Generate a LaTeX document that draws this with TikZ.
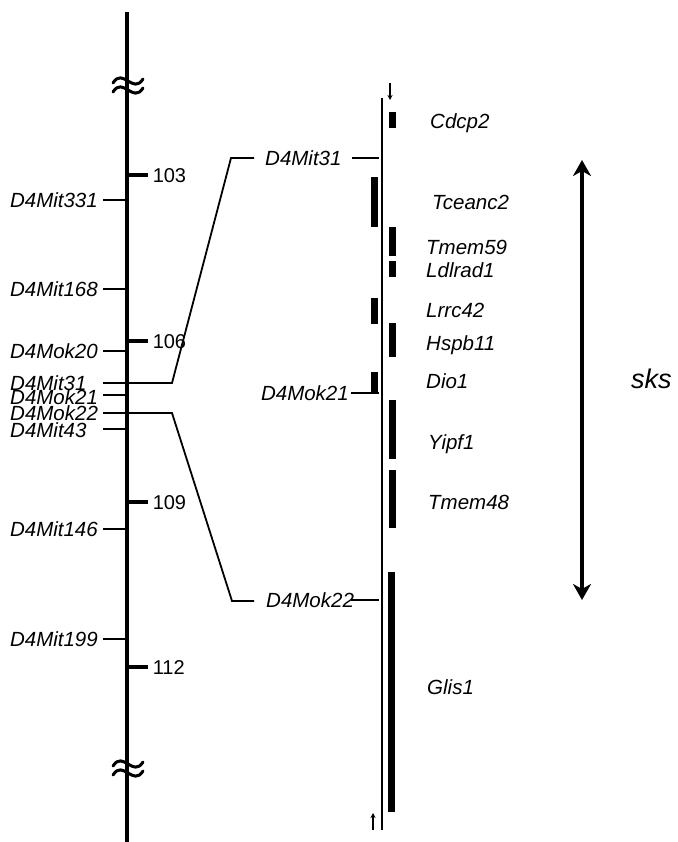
\documentclass[tikz,border=0pt]{standalone}
\usepackage{fontspec}
\setmainfont{Liberation Sans}
\usetikzlibrary{arrows.meta}
\begin{document}
\begin{tikzpicture}[x=1pt,y=-1pt,
  lab/.style={font=\fontsize{20.5}{23}\selectfont\itshape, inner sep=0pt, text height=14.7pt, text depth=0pt},
  num/.style={font=\fontsize{20}{23}\selectfont, inner sep=0pt, text height=14.3pt, text depth=0pt, anchor=west},
  mk/.style={line width=2pt},
  tickmk/.style={line width=3.5pt},
  conn/.style={line width=1.8pt},
  genebar/.style={fill=black, draw=none},
  brk/.style={line width=3pt, line cap=round}]
\useasboundingbox (0,0) rectangle (677,842);

% chromosome
\draw[line width=4.2pt] (127,12) -- (127,842);
\foreach \y in {81,90,764,773}{
  \draw[brk] (113,\y+2) .. controls (118,\y-6) and (123,\y-3) .. (128,\y) .. controls (133,\y+3) and (138,\y+6) .. (143,\y-2);
}

% scale ticks
\foreach \y/\t in {175/103,341/106,502/109,667/112}{
  \draw[tickmk] (129,\y) -- (148,\y) node[num, right=3pt] (s\t) {\t};
}

% left markers (right aligned)
\foreach \y/\t in {200/D4Mit331,289/D4Mit168,351/D4Mok20,529/D4Mit146,639/D4Mit199}{
  \node[lab, anchor=east] (L\t) at (98,\y) {\t};
  \draw[mk] (103,\y) -- (127,\y);
}
% left markers (clustered, left aligned)
\node[lab, anchor=west] (LD4Mit31) at (10,383) {D4Mit31};
\node[lab, anchor=west] (LD4Mok21) at (10,397) {D4Mok21};
\node[lab, anchor=west] (LD4Mok22) at (10,413) {D4Mok22};
\node[lab, anchor=west] (LD4Mit43) at (10,430) {D4Mit43};
\draw[mk] (103,395) -- (127,395);
\draw[mk] (103,429) -- (127,429);

% connectors
\coordinate (a0) at (103,383);
\coordinate (a1) at (172,383);
\coordinate (a2) at (231,158);
\coordinate (a3) at (254,158);
\draw[conn] (a0) -- (a1) -- (a2) -- (a3);
\coordinate (b0) at (103,413);
\coordinate (b1) at (172,413);
\coordinate (b2) at (232,601);
\coordinate (b3) at (254,601);
\draw[conn] (b0) -- (b1) -- (b2) -- (b3);

% detailed map
\coordinate (top) at (382,98);
\coordinate (bot) at (382,830);
\draw[line width=1.3pt] (top) -- (bot);

\node[lab, anchor=west] (R31) at (265,158) {D4Mit31};
\draw[mk] (352,158) -- (379,158);
\node[lab, anchor=east] (R21) at (349,393) {D4Mok21};
\draw[mk] (351,393) -- (379,393);
\node[lab, anchor=west] (R22) at (266,600) {D4Mok22};
\draw[mk] (351,600) -- (379,600);

% small arrows
\coordinate (ta0) at (390,83);
\coordinate (ta1) at (390,100);
\draw[line width=1.2pt, -{Stealth[length=5pt,width=5pt]}] (ta0) -- (ta1);
\coordinate (ba0) at (373,830);
\coordinate (ba1) at (373,813);
\draw[line width=1.2pt, -{Stealth[length=5pt,width=5pt]}] (ba0) -- (ba1);

% gene bars
\fill[genebar] (389,112) rectangle (395.5,128);
\fill[genebar] (371,177) rectangle (377.5,227);
\fill[genebar] (389,227) rectangle (395.5,256);
\fill[genebar] (389,261) rectangle (395.5,277);
\fill[genebar] (371,298) rectangle (377.5,324);
\fill[genebar] (389,323) rectangle (395.5,357);
\fill[genebar] (371,372) rectangle (377.5,392);
\fill[genebar] (389,400) rectangle (395.5,459);
\fill[genebar] (389,470) rectangle (395.5,528);
\fill[genebar] (388,572) rectangle (394.5,812);

% gene labels
\node[lab, anchor=west] (gCdcp2) at (430,121) {Cdcp2};
\node[lab, anchor=west] (gTceanc2) at (432,202) {Tceanc2};
\node[lab, anchor=west] (gTmem59) at (426,247) {Tmem59};
\node[lab, anchor=west] (gLdlrad1) at (426,270) {Ldlrad1};
\node[lab, anchor=west] (gLrrc42) at (426,310) {Lrrc42};
\node[lab, anchor=west] (gHspb11) at (426,343) {Hspb11};
\node[lab, anchor=west] (gDio1) at (426,381) {Dio1};
\node[lab, anchor=west] (gYipf1) at (428,442) {Yipf1};
\node[lab, anchor=west] (gTmem48) at (428,502) {Tmem48};
\node[lab, anchor=west] (gGlis1) at (427,687) {Glis1};

% sks interval
\coordinate (s0) at (582,160);
\coordinate (s1) at (582,600);
\draw[line width=4pt, {Stealth[length=16pt,width=18pt,inset=5pt]}-{Stealth[length=16pt,width=18pt,inset=5pt]}] (s0) -- (s1);
\node[font=\fontsize{27}{30}\selectfont\itshape, inner sep=0pt, anchor=west] (sks) at (631,379) {sks};
\end{tikzpicture}
\end{document}
